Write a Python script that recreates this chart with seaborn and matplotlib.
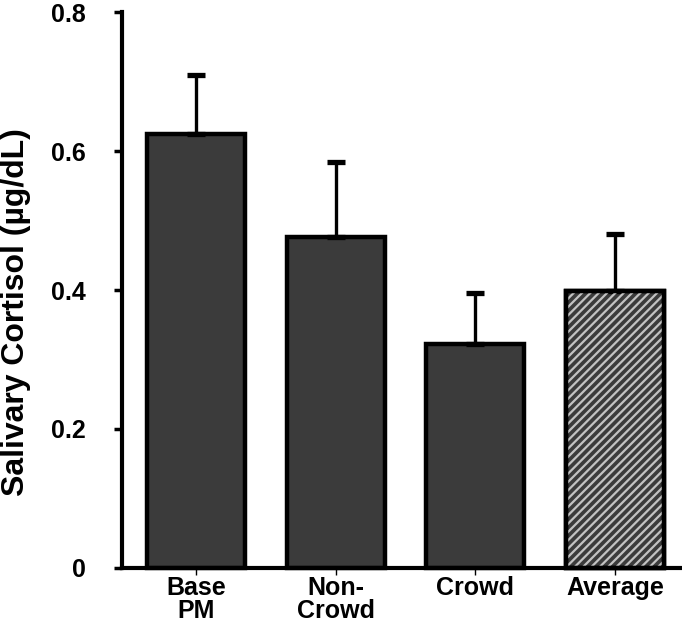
import matplotlib
matplotlib.use("Agg")
import matplotlib.pyplot as plt
import seaborn as sns
import pandas as pd
from matplotlib.patches import Rectangle

categories = ["Base\nPM", "Non-\nCrowd", "Crowd", "Average"]
means = [0.624, 0.476, 0.322, 0.398]
errors = [0.085, 0.108, 0.073, 0.082]
yticks = [0, 0.2, 0.4, 0.6, 0.8]
ytick_labels = ["0", "0.2", "0.4", "0.6", "0.8"]

sns.set_theme(style="white")
plt.rcParams['font.family'] = ['Liberation Sans', 'DejaVu Sans']
plt.rcParams['hatch.linewidth'] = 1.6
plt.rcParams['text.color'] = 'black'
plt.rcParams['axes.labelcolor'] = 'black'
plt.rcParams['xtick.color'] = 'black'
plt.rcParams['ytick.color'] = 'black'

df = pd.DataFrame({"cat": categories, "val": means})

fig = plt.figure(figsize=(6.82, 6.36), dpi=100)
ax = fig.add_axes([0.179, 0.107, 0.821, 0.874])

sns.barplot(data=df, x="cat", y="val", color="#3b3b3b", saturation=1,
            width=0.70, edgecolor="black", linewidth=3.2, errorbar=None, ax=ax)

for p in ax.patches:
    p.set_clip_on(False)

# hatched average bar
p = ax.patches[3]
hatch_rect = Rectangle((p.get_x(), p.get_y()), p.get_width(), p.get_height(),
                       facecolor="none", edgecolor="#c2c2c2", hatch="////",
                       linewidth=0, zorder=p.get_zorder() + 0.1, clip_on=False)
ax.add_patch(hatch_rect)
edge_rect = Rectangle((p.get_x(), p.get_y()), p.get_width(), p.get_height(),
                      facecolor="none", edgecolor="black", linewidth=3.2,
                      zorder=p.get_zorder() + 0.2, clip_on=False)
ax.add_patch(edge_rect)

xs = list(range(len(categories)))
ax.errorbar(xs, means, yerr=[[0] * len(errors), errors], fmt="none",
            ecolor="black", elinewidth=2.4, capsize=6.5, capthick=3.8, zorder=1)

ax.set_xlim(-0.53, 3.48)
ax.set_ylim(0, 0.8)
ax.set_yticks(yticks)
ax.set_yticklabels(ytick_labels, fontsize=18, fontweight="bold", color="black")
ax.set_xticks(xs)
ax.set_xticklabels(categories, fontsize=18, fontweight="bold", linespacing=0.95, color="black")
ax.set_xlabel("")
ax.set_ylabel("Salivary Cortisol (µg/dL)", fontsize=23, fontweight="bold", color="black")
ax.yaxis.set_label_coords(-0.163, 0.46)

for side in ["top", "right"]:
    ax.spines[side].set_visible(False)
for side in ["left", "bottom"]:
    ax.spines[side].set_linewidth(3)
    ax.spines[side].set_color("black")

ax.tick_params(axis="y", direction="out", length=6, width=2.5, color="black", pad=20, left=True)
ax.tick_params(axis="x", direction="out", length=5, width=1, color="black", pad=1, bottom=True)

fig.savefig("out.png", dpi=100)
